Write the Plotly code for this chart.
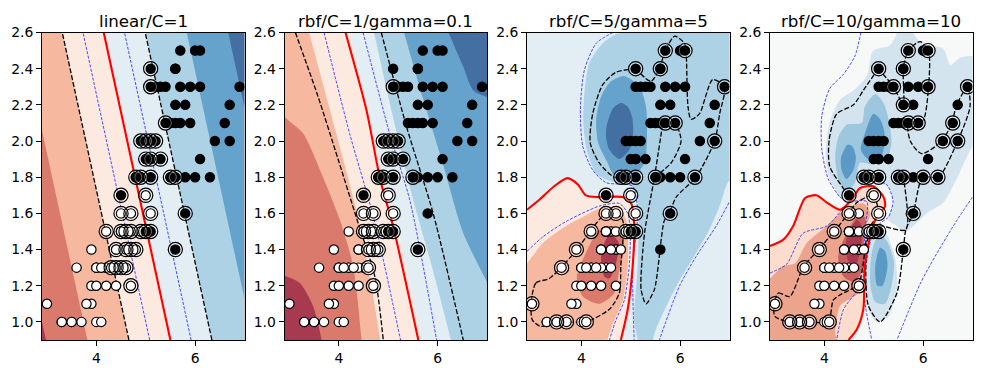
import plotly.graph_objects as go

TITLES = ["linear/C=1", "rbf/C=1/gamma=0.1", "rbf/C=5/gamma=5", "rbf/C=10/gamma=10"]
X_RANGE = [2.9, 7.0]
Y_RANGE = [0.9, 2.6]
X_TICKS = [4, 6]
Y_TICKS = [1.0, 1.2, 1.4, 1.6, 1.8, 2.0, 2.2, 2.4, 2.6]

VERSICOLOR_LEN = [4.7,4.5,4.9,4.0,4.6,4.5,4.7,3.3,4.6,3.9,3.5,4.2,4.0,4.7,3.6,4.4,4.5,4.1,4.5,3.9,4.8,4.0,4.9,4.7,4.3,4.4,4.8,5.0,4.5,3.5,3.8,3.7,3.9,5.1,4.5,4.5,4.7,4.4,4.1,4.0,4.4,4.6,4.0,3.3,4.2,4.2,4.2,4.3,3.0,4.1]
VERSICOLOR_WID = [1.4,1.5,1.5,1.3,1.5,1.3,1.6,1.0,1.3,1.4,1.0,1.5,1.0,1.4,1.3,1.4,1.5,1.0,1.5,1.1,1.8,1.3,1.5,1.2,1.3,1.4,1.4,1.7,1.5,1.0,1.1,1.0,1.2,1.6,1.5,1.6,1.5,1.3,1.3,1.3,1.2,1.4,1.2,1.0,1.3,1.2,1.3,1.3,1.1,1.3]
VIRGINICA_LEN = [6.0,5.1,5.9,5.6,5.8,6.6,4.5,6.3,5.8,6.1,5.1,5.3,5.5,5.0,5.1,5.3,5.5,6.7,6.9,5.0,5.7,4.9,6.7,4.9,5.7,6.0,4.8,4.9,5.6,5.8,6.1,6.4,5.6,5.1,5.6,6.1,5.6,5.5,4.8,5.4,5.6,5.1,5.1,5.9,5.7,5.2,5.0,5.2,5.4,5.1]
VIRGINICA_WID = [2.5,1.9,2.1,1.8,2.2,2.1,1.7,1.8,1.8,2.5,2.0,1.9,2.1,2.0,2.4,2.3,1.8,2.2,2.3,1.5,2.3,2.0,2.0,1.8,2.1,1.8,1.8,1.8,2.1,1.6,1.9,2.0,2.2,1.5,1.4,2.3,2.4,1.8,1.8,2.1,2.4,2.3,1.9,2.3,2.5,2.3,1.9,2.0,2.3,1.8]

SV1 = [(5.1,2.4),(5.1,2.3),(5.4,2.1),(4.9,2.0),(5.0,2.0),(5.1,2.0),(5.2,2.0),(5.0,1.9),(5.1,1.9),(5.3,1.9),(4.8,1.8),(4.9,1.8),(5.1,1.8),(5.5,1.8),(5.6,1.8),(4.5,1.7),(5.8,1.6),(5.0,1.5),(5.1,1.5),(5.6,1.4),(5.0,1.7),(4.5,1.6),(4.7,1.6),(5.1,1.6),(4.2,1.5),(4.5,1.5),(4.6,1.5),(4.7,1.5),(4.9,1.5),(4.4,1.4),(4.6,1.4),(4.7,1.4),(4.8,1.4),(4.3,1.3),(4.4,1.3),(4.5,1.3),(4.6,1.3),(4.7,1.2)]
SV2 = [(5.1,2.3),(4.9,2.0),(5.0,2.0),(5.1,2.0),(5.2,2.0),(5.0,1.9),(5.1,1.9),(5.3,1.9),(4.8,1.8),(4.9,1.8),(5.1,1.8),(5.5,1.8),(4.5,1.7),(5.0,1.5),(5.1,1.5),(5.6,1.4),(5.0,1.7),(4.5,1.6),(4.7,1.6),(5.1,1.6),(4.5,1.5),(4.6,1.5),(4.7,1.5),(4.9,1.5),(4.6,1.4),(4.7,1.4),(4.8,1.4),(4.6,1.3),(4.7,1.2)]
SV3 = [(5.1,2.4),(5.6,2.4),(5.7,2.5),(6.1,2.5),(6.9,2.3),(5.7,2.1),(5.9,2.1),(6.7,2.0),(4.8,1.8),(4.9,1.8),(5.1,1.8),(5.5,1.8),(6.3,1.8),(5.8,1.6),(4.5,1.7),(5.0,1.5),(5.1,1.5),(5.0,1.7),(4.5,1.6),(4.7,1.6),(5.1,1.6),(4.2,1.5),(4.9,1.5),(3.9,1.4),(3.6,1.3),(3.0,1.1),(3.5,1.0),(3.7,1.0),(4.1,1.0)]
SV4 = [(5.1,2.4),(5.6,2.4),(5.7,2.5),(6.1,2.5),(5.4,2.3),(6.1,2.3),(6.9,2.3),(5.6,2.2),(5.7,2.1),(5.9,2.1),(6.6,2.1),(6.4,2.0),(6.7,2.0),(4.8,1.8),(4.9,1.8),(5.1,1.8),(5.5,1.8),(5.6,1.8),(6.0,1.8),(6.3,1.8),(4.5,1.7),(5.8,1.6),(5.0,1.5),(5.1,1.5),(5.6,1.4),(5.0,1.7),(4.5,1.6),(5.1,1.6),(4.2,1.5),(4.9,1.5),(3.9,1.4),(3.6,1.3),(4.7,1.2),(3.0,1.1),(3.3,1.0),(3.5,1.0),(3.7,1.0),(4.1,1.0)]

# Panel 1: decision values at the corners of the plot
P1_X = [2.9, 7.0]
P1_Y = [0.9, 2.6]
P1_Z = [[-3.095, 1.786], [-1.488, 3.393]]

# Panel 2 band edges (closed outside the visible range)
P2_E3 = [(6.0,2.75),(6.22,2.6),(6.52,2.41),(6.72,2.28),(7.0,2.245),(7.3,2.24),(7.3,0.6),(2.6,0.6),(2.6,2.9),(5.8,2.9)]
P2_E2 = [(5.2,2.72),(5.32,2.6),(5.71,2.23),(6.08,1.9),(6.52,1.49),(7.0,1.22),(7.3,1.05),(7.3,0.6),(2.6,0.6),(2.6,2.9),(5.0,2.9)]
P2_E1 = [(4.6,2.72),(4.71,2.6),(5.10,2.13),(5.51,1.67),(5.88,1.31),(6.27,0.9),(6.4,0.75),(6.4,0.6),(2.6,0.6),(2.6,2.9),(4.4,2.9)]
P2_E0 = [(4.14,2.72),(4.22,2.6),(4.86,1.86),(5.17,1.53),(5.68,0.9),(5.8,0.75),(5.8,0.6),(2.6,0.6),(2.6,2.9),(4.0,2.9)]
P2_M1 = [(3.3,2.72),(3.40,2.6),(3.95,2.04),(4.43,1.53),(4.84,0.9),(4.9,0.75),(4.9,0.6),(2.6,0.6),(2.6,2.9),(3.1,2.9)]
P2_M2 = [(2.7,2.25),(2.9,2.135),(3.28,2.04),(3.68,1.80),(4.02,1.565),(4.29,1.31),(4.46,0.9),(4.5,0.75),(4.5,0.6),(2.6,0.6),(2.6,2.3)]
P2_M3 = [(2.7,1.27),(2.9,1.255),(3.21,1.215),(3.48,1.087),(3.65,0.9),(3.7,0.75),(3.7,0.6),(2.6,0.6),(2.6,1.3)]
P2_RED = [(4.135,2.6),(4.56,2.17),(4.84,1.785),(5.10,1.527),(5.61,0.9)]
P2_K1 = [(3.12,2.6),(3.58,2.245),(3.99,1.895),(4.37,1.564),(4.73,1.25),(4.90,0.9)]
P2_K2 = [(4.86,2.6),(5.37,2.08),(5.91,1.6),(6.52,0.9)]
P2_D1 = [(3.70,2.6),(4.22,2.04),(4.70,1.58),(5.25,0.9)]
P2_D2 = [(4.49,2.6),(5.03,2.04),(5.44,1.67),(5.98,0.9)]

# Panel 3
P3_B1 = [(5.2,2.9),(7.3,2.9),(7.3,1.75),(7.0,1.78),(6.80,1.64),(6.59,1.51),(6.32,1.38),(5.99,1.23),(5.78,1.12),(5.51,0.96),(5.45,0.9),(5.42,0.75),(5.15,0.75),(5.14,0.9),(5.07,1.01),(5.14,1.31),(5.16,1.60),(5.11,1.73),(4.97,1.76),(4.57,1.78),(4.30,1.82),(4.11,1.95),(4.04,2.10),(4.06,2.26),(4.16,2.43),(4.43,2.54),(4.7,2.59),(4.96,2.62)]
P3_B2 = [(4.87,2.36),(4.60,2.33),(4.40,2.245),(4.30,2.12),(4.34,1.99),(4.53,1.88),(4.67,1.81),(5.04,1.80),(5.28,1.88),(5.33,2.04),(5.31,2.19),(5.18,2.30)]
P3_B3 = [(4.80,2.21),(4.64,2.18),(4.51,2.08),(4.50,2.02),(4.57,1.95),(4.77,1.90),(4.97,1.95),(5.05,2.04),(5.03,2.13),(4.94,2.19)]
P3_RED = [(2.9,1.62),(3.15,1.675),(3.45,1.75),(3.72,1.795),(3.93,1.76),(4.09,1.70),(4.36,1.69),(4.84,1.69),(5.01,1.655),(5.07,1.53),(5.04,1.31),(4.94,1.07),(4.80,0.9)]
P3_R1 = P3_RED + [(4.7,0.75),(4.7,0.6),(2.6,0.6),(2.6,1.55)]
P3_R2 = [(2.9,1.325),(3.22,1.435),(3.69,1.53),(4.03,1.58),(4.40,1.63),(4.74,1.63),(4.91,1.565),(4.94,1.31),(4.84,1.12),(4.67,1.01),(4.53,0.9),(4.48,0.75),(4.4,0.6),(2.6,0.6),(2.6,1.25)]
P3_R3 = [(4.64,1.53),(4.36,1.51),(4.09,1.38),(3.91,1.25),(4.03,1.14),(4.36,1.10),(4.67,1.16),(4.77,1.29),(4.87,1.42),(4.77,1.51)]
P3_R4 = [(4.53,1.47),(4.40,1.36),(4.47,1.25),(4.57,1.24),(4.70,1.32),(4.76,1.435),(4.67,1.47)]
P3_D1 = [(4.64,2.6),(4.30,2.54),(4.06,2.39),(3.98,2.17),(4.03,1.97),(4.23,1.84),(4.50,1.77),(5.04,1.75),(5.14,1.60),(5.04,1.31),(5.07,0.9)]
P3_D2 = [(6.99,1.66),(6.73,1.53),(6.32,1.36),(5.99,1.2),(5.58,0.9)]
P3_D3 = [(2.9,1.39),(3.22,1.47),(3.69,1.555),(4.36,1.64),(4.77,1.655),(4.94,1.60),(4.99,1.49),(4.97,1.31),(4.87,1.12),(4.70,1.01),(4.57,0.9)]
P3_K1 = [(5.1,2.4),(4.70,2.38),(4.43,2.31),(4.23,2.15),(4.18,1.99),(4.36,1.88),(4.67,1.80),(5.1,1.8)]
P3_K2 = [(5.1,2.4),(5.41,2.33),(5.58,2.4),(5.70,2.5),(5.89,2.58),(6.09,2.54),(6.12,2.5),(6.16,2.19),(6.22,2.12),(6.39,2.15),(6.66,2.34),(6.9,2.3),(6.80,2.15),(6.70,2.0),(6.32,1.8),(5.92,1.69),(5.78,1.6),(5.68,1.56),(5.48,1.18),(5.31,1.10),(5.21,1.18),(5.28,1.49),(5.48,1.8),(5.65,2.1)]
P3_K3 = [(5.48,1.8),(5.82,1.88),(6.02,2.0),(5.92,2.1)]
P3_K4 = [(2.98,1.1),(3.08,1.215),(3.35,1.24),(3.59,1.30),(3.91,1.40),(4.18,1.5),(4.49,1.6),(4.70,1.6),(4.84,1.56),(4.80,1.31),(4.77,1.16),(4.57,1.07),(4.09,1.0),(3.69,1.0),(3.49,1.0),(3.18,0.975),(3.01,1.01),(2.98,1.1)]

# Panel 4
P4_B1 = [(4.15,2.14),(4.06,2.04),(4.03,1.91),(4.11,1.79),(4.32,1.69),(4.49,1.66),(4.62,1.72),(4.79,1.77),(5.13,1.77),(5.33,1.73),(5.39,1.66),(5.30,1.56),(5.47,1.53),(5.60,1.49),(5.80,1.53),(6.07,1.60),(6.41,1.66),(6.68,1.79),(7.0,1.97),(7.3,2.05),(7.3,2.45),(7.0,2.47),(6.75,2.46),(6.55,2.42),(6.41,2.51),(5.97,2.54),(5.80,2.6),(5.75,2.75),(5.5,2.75),(5.47,2.6),(5.33,2.53),(4.99,2.50),(4.86,2.36),(4.59,2.28),(4.32,2.23)]
P4_B1B = [(4.98,1.51),(5.20,1.51),(5.43,1.36),(5.47,1.18),(5.30,1.03),(5.06,1.0),(4.89,1.07),(4.84,1.25),(4.89,1.44)]
P4_B2 = [(5.03,2.26),(4.82,2.19),(4.76,2.10),(4.45,2.09),(4.28,2.02),(4.22,1.91),(4.28,1.79),(4.45,1.72),(4.62,1.77),(4.72,1.88),(4.99,1.87),(5.26,1.90),(5.36,1.99),(5.30,2.12),(5.20,2.21)]
P4_B2C = [(5.09,1.48),(4.96,1.38),(4.93,1.21),(5.03,1.11),(5.23,1.10),(5.36,1.20),(5.41,1.33),(5.26,1.45)]
P4_B3A = [(4.47,1.98),(4.34,1.91),(4.35,1.84),(4.45,1.79),(4.59,1.84),(4.64,1.91),(4.57,1.97)]
P4_B3B = [(4.99,2.15),(4.82,2.04),(4.74,1.95),(4.89,1.90),(5.16,1.92),(5.22,2.04),(5.13,2.12)]
P4_B3C = [(5.13,1.41),(5.03,1.31),(5.07,1.2),(5.18,1.2),(5.28,1.31),(5.23,1.39)]
P4_RED = [(2.9,1.42),(3.17,1.455),(3.37,1.53),(3.61,1.685),(3.84,1.70),(4.05,1.66),(4.32,1.62),(4.55,1.675),(4.72,1.74),(4.99,1.75),(5.20,1.69),(5.23,1.64),(5.06,1.58),(4.96,1.51),(4.82,1.31),(4.79,1.07),(4.66,0.96),(4.49,0.9)]
P4_R1 = P4_RED + [(4.35,0.8),(4.2,0.6),(2.6,0.6),(2.6,1.4)]
P4_R2 = [(2.9,1.24),(3.17,1.31),(3.41,1.325),(3.64,1.435),(4.05,1.53),(4.45,1.63),(4.79,1.655),(4.93,1.60),(4.79,1.49),(4.76,1.27),(4.69,1.16),(4.32,1.09),(4.22,0.94),(4.25,0.9),(4.26,0.75),(4.2,0.6),(2.6,0.6),(2.6,1.18)]
P4_R3 = [(4.66,1.58),(4.45,1.49),(4.28,1.36),(4.39,1.25),(4.62,1.22),(4.80,1.31),(4.80,1.49),(4.82,1.58)]
P4_R4 = [(4.66,1.565),(4.45,1.455),(4.47,1.345),(4.62,1.31),(4.72,1.38),(4.76,1.53)]
P4_D1 = [(4.74,2.6),(4.62,2.47),(4.39,2.37),(4.11,2.29),(3.95,2.14),(3.95,1.95),(4.08,1.79),(4.32,1.69),(4.52,1.66),(4.76,1.76),(4.89,1.78),(5.26,1.76),(5.39,1.67),(5.30,1.58),(5.13,1.545),(4.96,1.47),(4.84,1.31),(4.82,1.12),(4.96,0.9)]
P4_D2 = [(7.0,1.69),(6.68,1.56),(6.28,1.38),(5.94,1.21),(5.47,0.9)]
P4_D3 = [(2.9,1.27),(3.24,1.32),(3.57,1.49),(4.05,1.53),(4.52,1.66),(4.86,1.665),(4.82,1.51),(4.76,1.215),(4.39,1.07),(4.25,0.9)]
P4_K1 = [(5.09,2.4),(4.79,2.28),(4.59,2.2),(4.25,2.15),(4.10,2.01),(4.11,1.86),(4.49,1.7)]
P4_K2 = [(5.09,2.4),(5.40,2.3),(5.60,2.2),(5.60,2.4),(5.70,2.5),(5.94,2.55),(6.11,2.5),(6.11,2.3),(5.99,2.11),(5.70,2.1),(5.74,2.0),(5.97,1.93),(6.38,2.0),(6.58,2.1),(6.68,2.2),(6.9,2.3),(6.95,2.19),(6.7,2.0),(6.31,1.8),(5.99,1.8),(5.80,1.6),(5.65,1.51),(5.60,1.4),(5.47,1.16),(5.13,1.0),(4.89,1.09),(4.84,1.31),(4.89,1.47),(5.09,1.53),(5.65,1.51),(5.60,1.8)]
P4_K3 = [(2.98,1.1),(3.07,1.16),(3.30,1.14),(3.57,1.30),(3.88,1.40),(4.2,1.5),(4.49,1.6),(4.66,1.66),(4.99,1.7),(5.09,1.6),(4.89,1.51),(4.69,1.21),(4.32,1.15),(4.18,1.12),(4.08,1.0),(3.70,1.0),(3.27,1.0),(3.0,1.03),(2.98,1.1)]

BAND = ["#a83a50","#d97a6c","#f6b89f","#fceae0","#e2eef4","#aed2e5","#65a3cc","#436fa3"]
P4_BLUES = ["#f7f8f8","#d3e4ef","#9dc6df","#5b9ac6"]
P4_REDS = ["#fcdccc","#eda48c","#c8605f","#a83a50"]
RED, BLACK, BLUE = "#ff0000", "#000000", "#0000ff"

AX_LEFT = [42, 284.5, 527, 770]
AX_W = 202.5
FIG_W, FIG_H = 981, 374
AX_TOP, AX_BOT = 32.5, 340
DOT_DASH = "3px,1.5px"
KDASH = "5px,2px"

fig = go.Figure()

def sid(n):
    return "" if n == 1 else str(n)

def fill(n, pts, color):
    xs = [p[0] for p in pts]; ys = [p[1] for p in pts]
    fig.add_trace(go.Scatter(x=xs + xs[:1], y=ys + ys[:1], mode="lines", fill="toself", fillcolor=color,
                             line=dict(width=0, shape="spline", smoothing=0.7), hoverinfo="skip", showlegend=False,
                             xaxis="x" + sid(n), yaxis="y" + sid(n)))

def stroke(n, pts, color, width, dash):
    fig.add_trace(go.Scatter(x=[p[0] for p in pts], y=[p[1] for p in pts], mode="lines",
                             line=dict(color=color, width=width, dash=dash, shape="spline", smoothing=0.7),
                             hoverinfo="skip", showlegend=False, xaxis="x" + sid(n), yaxis="y" + sid(n)))

def points(n, sv):
    for xs, ys, c in [(VERSICOLOR_LEN, VERSICOLOR_WID, "#ffffff"), (VIRGINICA_LEN, VIRGINICA_WID, "#000000")]:
        fig.add_trace(go.Scatter(x=xs, y=ys, mode="markers", showlegend=False, hoverinfo="skip",
                                 marker=dict(size=9.3, color=c, line=dict(color="#000000", width=1.2)),
                                 xaxis="x" + sid(n), yaxis="y" + sid(n)))
    sx = [p[0] for p in sv]; sy = [p[1] for p in sv]
    fig.add_trace(go.Scatter(x=sx, y=sy, mode="markers", showlegend=False, hoverinfo="skip",
                             marker=dict(size=12.0, color="rgba(0,0,0,0)", line=dict(color="rgba(255,255,255,0.35)", width=1.3)),
                             xaxis="x" + sid(n), yaxis="y" + sid(n)))
    fig.add_trace(go.Scatter(x=sx, y=sy, mode="markers", showlegend=False, hoverinfo="skip",
                             marker=dict(size=14.2, color="rgba(0,0,0,0)", line=dict(color="#000000", width=1.2)),
                             xaxis="x" + sid(n), yaxis="y" + sid(n)))

# panel 1
stops = []
for i, c in enumerate(BAND):
    stops += [[i / 8, c], [(i + 1) / 8, c]]
fig.add_trace(go.Contour(x=P1_X, y=P1_Y, z=P1_Z, zmin=-4, zmax=4, colorscale=stops, showscale=False,
                         autocontour=False, contours=dict(coloring="fill", start=-3, end=3, size=1),
                         line=dict(width=0), hoverinfo="skip", xaxis="x", yaxis="y"))
for start, end, size, col, w, dash in [(-1, 1, 2, BLACK, 1.3, KDASH), (-0.5, 0.5, 1, BLUE, 0.7, DOT_DASH), (0, 0, 1, RED, 2.1, "solid")]:
    fig.add_trace(go.Contour(x=P1_X, y=P1_Y, z=P1_Z, showscale=False, autocontour=False,
                             contours=dict(coloring="none", start=start, end=end, size=size),
                             line=dict(color=col, width=w, dash=dash), hoverinfo="skip", xaxis="x", yaxis="y"))
points(1, SV1)

# panel 2
for pts, c in [(P2_E3, BAND[6]), (P2_E2, BAND[5]), (P2_E1, BAND[4]), (P2_E0, BAND[3]), (P2_M1, BAND[2]), (P2_M2, BAND[1]), (P2_M3, BAND[0])]:
    fill(2, pts, c)
for pts in (P2_D1, P2_D2):
    stroke(2, pts, BLUE, 0.7, DOT_DASH)
for pts in (P2_K1, P2_K2):
    stroke(2, pts, BLACK, 1.3, KDASH)
stroke(2, P2_RED, RED, 2.1, "solid")
points(2, SV2)

# panel 3
for pts, c in [(P3_B1, BAND[5]), (P3_B2, BAND[6]), (P3_B3, BAND[7]), (P3_R1, BAND[3]), (P3_R2, BAND[2]), (P3_R3, BAND[1]), (P3_R4, BAND[0])]:
    fill(3, pts, c)
for pts in (P3_D1, P3_D2, P3_D3):
    stroke(3, pts, BLUE, 0.7, DOT_DASH)
for pts in (P3_K1, P3_K2, P3_K3, P3_K4):
    stroke(3, pts, BLACK, 1.3, KDASH)
stroke(3, P3_RED, RED, 2.1, "solid")
points(3, SV3)

# panel 4
for pts, c in [(P4_B1, P4_BLUES[1]), (P4_B1B, P4_BLUES[1]), (P4_B2, P4_BLUES[2]), (P4_B2C, P4_BLUES[2]),
               (P4_B3A, P4_BLUES[3]), (P4_B3B, P4_BLUES[3]), (P4_B3C, P4_BLUES[3]),
               (P4_R1, P4_REDS[0]), (P4_R2, P4_REDS[1]), (P4_R3, P4_REDS[2]), (P4_R4, P4_REDS[3])]:
    fill(4, pts, c)
for pts in (P4_D1, P4_D2, P4_D3):
    stroke(4, pts, BLUE, 0.7, DOT_DASH)
for pts in (P4_K1, P4_K2, P4_K3):
    stroke(4, pts, BLACK, 1.3, KDASH)
stroke(4, P4_RED, RED, 2.1, "solid")
points(4, SV4)

font = dict(family="DejaVu Sans", size=13.9, color="#000000")
layout = dict(width=FIG_W, height=FIG_H, autosize=False, margin=dict(l=0, r=0, t=0, b=0),
              paper_bgcolor="#ffffff", showlegend=False, font=font, annotations=[])
BG = ["#436fa3", "#436fa3", BAND[4], P4_BLUES[0]]
shapes = []
for i in range(4):
    n = i + 1
    s = sid(n)
    axis = dict(showgrid=False, zeroline=False, showline=True, mirror=True, linecolor="#000000", linewidth=1,
                ticks="outside", ticklen=5, tickwidth=1, tickcolor="#000000", tickfont=font, layer="above traces",
                automargin=False)
    layout["xaxis" + s] = dict(axis, range=X_RANGE, tickvals=X_TICKS, ticktext=[str(v) for v in X_TICKS],
                               domain=[AX_LEFT[i] / FIG_W, (AX_LEFT[i] + AX_W) / FIG_W], anchor="y" + s)
    layout["yaxis" + s] = dict(axis, range=Y_RANGE, tickvals=Y_TICKS, ticktext=[f"{v:.1f}" for v in Y_TICKS],
                               domain=[1 - AX_BOT / FIG_H, 1 - AX_TOP / FIG_H], anchor="x" + s)
    shapes.append(dict(type="rect", xref="x" + s + " domain", yref="y" + s + " domain", x0=0, x1=1, y0=0, y1=1,
                       fillcolor=BG[i], line=dict(width=0), layer="below"))
    layout["annotations"].append(dict(text=TITLES[i], xref="paper", yref="paper", showarrow=False,
                                      x=(AX_LEFT[i] + AX_W / 2) / FIG_W, y=1 - 32.5 / FIG_H, xanchor="center", yanchor="bottom",
                                      font=dict(family="DejaVu Sans", size=16.7, color="#000000")))
layout["shapes"] = shapes
fig.update_layout(**layout)
fig.write_html("out.html", config={"displayModeBar": False},
               post_script="document.body.style.margin='0';document.body.style.overflow='hidden';")
